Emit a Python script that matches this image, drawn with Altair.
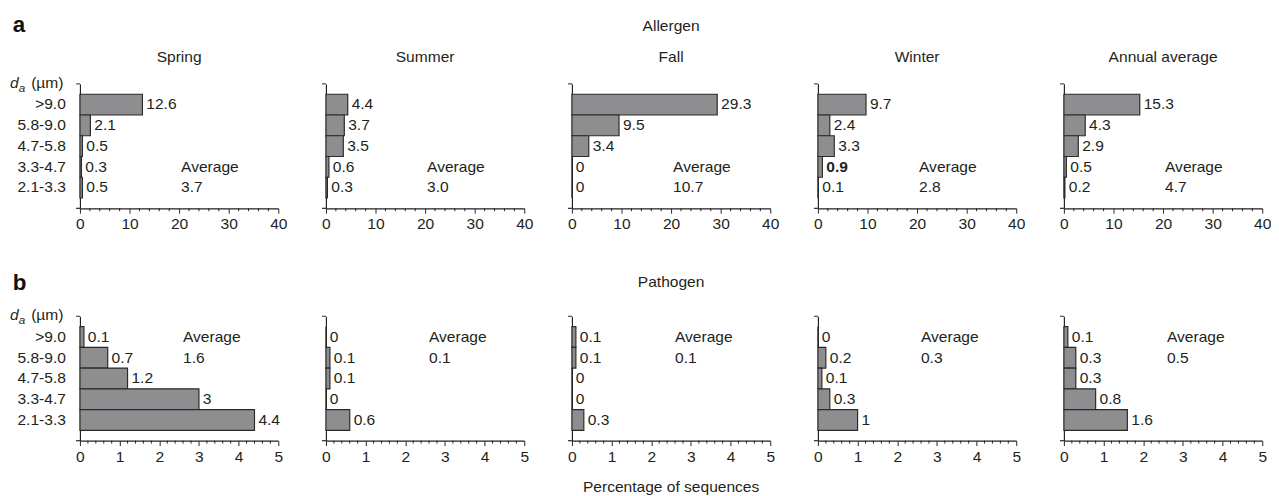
import altair as alt
import pandas as pd

sizes = [">9.0", "5.8-9.0", "4.7-5.8", "3.3-4.7", "2.1-3.3"]
seasons = ["Spring", "Summer", "Fall", "Winter", "Annual average"]

allergen_spring = [12.6, 2.1, 0.5, 0.3, 0.5]
allergen_summer = [4.4, 3.7, 3.5, 0.6, 0.3]
allergen_fall = [29.3, 9.5, 3.4, 0, 0]
allergen_winter = [9.7, 2.4, 3.3, 0.9, 0.1]
allergen_annual = [15.3, 4.3, 2.9, 0.5, 0.2]
allergen_avg = [3.7, 3.0, 10.7, 2.8, 4.7]

pathogen_spring = [0.1, 0.7, 1.2, 3, 4.4]
pathogen_summer = [0, 0.1, 0.1, 0, 0.6]
pathogen_fall = [0.1, 0.1, 0, 0, 0.3]
pathogen_winter = [0, 0.2, 0.1, 0.3, 1]
pathogen_annual = [0.1, 0.3, 0.3, 0.8, 1.6]
pathogen_avg = [1.6, 0.1, 0.1, 0.3, 0.5]

allergen = [allergen_spring, allergen_summer, allergen_fall, allergen_winter, allergen_annual]
pathogen = [pathogen_spring, pathogen_summer, pathogen_fall, pathogen_winter, pathogen_annual]

major_a = [0, 10, 20, 30, 40]
minor_a = [v for v in range(2, 40, 2) if v % 10 != 0]
major_b = [0, 1, 2, 3, 4, 5]
minor_b = [round(i * 0.2, 1) for i in range(1, 25) if i % 5 != 0]

W, H = 204, 128
FONT = "Liberation Sans"
TXT = "#231f20"
FS = 16


def txt(text, x, y, **kw):
    opts = dict(font=FONT, fontSize=FS, color=TXT, align="center", baseline="middle")
    opts.update(kw)
    return alt.Chart(pd.DataFrame({"t": [text]})).mark_text(**opts).encode(
        x=alt.value(x), y=alt.value(y), text="t:N"
    )


def panel(group, col):
    vals = allergen[col] if group == "a" else pathogen[col]
    avg = allergen_avg[col] if group == "a" else pathogen_avg[col]
    bold = [group == "a" and col == 3 and s == "3.3-4.7" for s in sizes]
    df = pd.DataFrame({
        "size": sizes,
        "value": vals,
        "label": [f"{v:g}" for v in vals],
        "bold": bold,
    })
    xmax = 40 if group == "a" else 5
    major = major_a if group == "a" else major_b
    minor = minor_a if group == "a" else minor_b
    xaxis = alt.Axis(
        values=major, title=None, grid=False, tickSize=5,
        labelOverlap=False, labelFlush=False, labelPadding=3,
    )
    xscale = alt.Scale(domain=[0, xmax], nice=False, zero=True)
    x = alt.X("value:Q", scale=xscale, axis=xaxis)
    y = alt.Y(
        "size:N", sort=sizes,
        scale=alt.Scale(domain=sizes, paddingInner=0, paddingOuter=0.5),
        axis=alt.Axis(title=None, ticks=False, labels=(col == 0), labelPadding=15, domain=True),
    )
    base = alt.Chart(df)
    bars = base.mark_bar(fill="#8e8e90", stroke="#2a2a2a", strokeWidth=1.2).encode(x=x, y=y)
    labels = base.mark_text(
        align="left", baseline="middle", dx=4, fontSize=FS, font=FONT, color=TXT
    ).encode(
        x="value:Q", y=alt.Y("size:N", sort=sizes), text="label:N",
    ).transform_filter("!datum.bold")
    labels_bold = base.mark_text(
        align="left", baseline="middle", dx=4, fontSize=FS, font=FONT, color=TXT, fontWeight="bold"
    ).encode(
        x="value:Q", y=alt.Y("size:N", sort=sizes), text="label:N",
    ).transform_filter("datum.bold")
    avg_rows = ["3.3-4.7", "2.1-3.3"] if group == "a" else [">9.0", "5.8-9.0"]
    avg_df = pd.DataFrame({"size": avg_rows, "t": ["Average", f"{avg:.1f}"]})
    avg_layer = alt.Chart(avg_df).mark_text(
        align="left", baseline="middle", dx=2 if group == "a" else 4,
        fontSize=FS, font=FONT, color=TXT
    ).encode(x=alt.datum(20 if group == "a" else 2.5), y=alt.Y("size:N", sort=sizes), text="t:N")

    minor_ticks = alt.Chart(pd.DataFrame({"v": minor})).mark_rule(color=TXT, strokeWidth=1).encode(
        x="v:Q", y=alt.value(H), y2=alt.value(H + 3))

    rule_df = pd.DataFrame({"k": [0]})
    top_tick = alt.Chart(rule_df).mark_rule(color=TXT, strokeWidth=1).encode(
        x=alt.value(-4), x2=alt.value(0), y=alt.value(0))
    bot_tick = alt.Chart(rule_df).mark_rule(color=TXT, strokeWidth=1.2).encode(
        x=alt.value(-4), x2=alt.value(0), y=alt.value(H))

    layers = [bars, labels, labels_bold, avg_layer, minor_ticks, top_tick, bot_tick]
    if group == "a":
        layers.append(txt(seasons[col], W / 2, -28))
    if col == 2:
        layers.append(txt("Allergen" if group == "a" else "Pathogen", W / 2, -59 if group == "a" else -35))
        if group == "b":
            layers.append(txt("Percentage of sequences", W / 2, H + 48))
    if col == 0:
        layers.append(txt(group, -69, -53 if group == "a" else -27, fontSize=23,
                          fontWeight="bold", align="left", baseline="alphabetic", color="#111111"))
        layers.append(txt("d", -63, -1, align="right", fontStyle="italic"))
        layers.append(txt("a", -63, 4, align="left", fontStyle="italic", fontSize=12))
        layers.append(txt("(µm)", -17, -1, align="right"))
    return alt.layer(*layers).properties(width=W, height=H)


panels = [panel("a", c) for c in range(5)] + [panel("b", c) for c in range(5)]

chart = alt.concat(
    *panels, columns=5, spacing={"row": 42, "column": 35}, align="each"
).properties(
    padding={"left": 2, "top": 0, "right": 0, "bottom": 0}
).configure_view(stroke=None).configure_axis(
    labelFont=FONT, labelFontSize=FS, labelColor=TXT,
    domainColor=TXT, tickColor=TXT, domainWidth=1.2, tickWidth=1,
)

chart.save("out.html", embed_options={"renderer": "svg", "actions": False})
